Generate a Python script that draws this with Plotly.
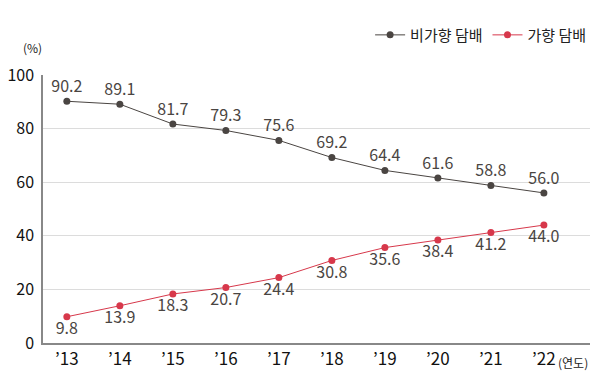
import plotly.graph_objects as go

years = ["’13", "’14", "’15", "’16", "’17", "’18", "’19", "’20", "’21", "’22"]
non_flavored = [90.2, 89.1, 81.7, 79.3, 75.6, 69.2, 64.4, 61.6, 58.8, 56.0]
flavored = [9.8, 13.9, 18.3, 20.7, 24.4, 30.8, 35.6, 38.4, 41.2, 44.0]
names = ["비가향 담배", "가향 담배"]
y_ticks = [0, 20, 40, 60, 80, 100]

FONT = "Noto Sans CJK KR"
DARK = "#4a4542"
RED = "#d7384b"

fig = go.Figure()
fig.add_trace(go.Scatter(
    x=list(range(len(years))), y=non_flavored, name=names[0],
    mode="lines+markers+text", text=[f"{v:.1f}" for v in non_flavored],
    textposition="top center", textfont=dict(size=16, color="#4a4542", family=FONT),
    line=dict(color=DARK, width=1), marker=dict(color=DARK, size=7),
    cliponaxis=False,
))
fig.add_trace(go.Scatter(
    x=list(range(len(years))), y=flavored, name=names[1],
    mode="lines+markers+text", text=[f"{v:.1f}" for v in flavored],
    textposition="bottom center", textfont=dict(size=16, color="#4a4542", family=FONT),
    line=dict(color=RED, width=1), marker=dict(color=RED, size=7),
    cliponaxis=False,
))

fig.update_layout(
    template="none",
    width=592, height=382,
    margin=dict(l=35, r=10, t=67, b=47, autoexpand=False),
    paper_bgcolor="white", plot_bgcolor="white",
    font=dict(family=FONT, color="#111"),
    showlegend=True,
    legend=dict(orientation="h", xref="container", yref="container",
                x=0.985, xanchor="right", y=0.929, yanchor="middle",
                font=dict(size=15, color="#222", family=FONT), itemwidth=30,
                traceorder="normal", bgcolor="rgba(0,0,0,0)"),
    xaxis=dict(range=[-0.45, 9.87], tickvals=list(range(len(years))), ticktext=years,
               showgrid=False, showline=True, linecolor="#888", linewidth=1.5,
               ticks="", tickfont=dict(size=17, color="#111", family=FONT), zeroline=False,
               automargin=False),
    yaxis=dict(range=[0, 100], tickvals=y_ticks, showgrid=True, gridcolor="#dcdcdc",
               gridwidth=1, showline=True, linecolor="#888", linewidth=1.5, ticks="",
               tickfont=dict(size=16, color="#111", family=FONT), zeroline=False,
               ticklabelstandoff=4, automargin=False),
    annotations=[
        dict(text="(%)", xref="paper", yref="paper", x=-0.02, y=1.104, xanchor="center",
             yanchor="middle", showarrow=False, font=dict(size=12, color="#222", family=FONT)),
        dict(text="(연도)", xref="paper", yref="paper", x=1.0, y=-0.071, xanchor="right",
             yanchor="middle", showarrow=False, font=dict(size=12, color="#222", family=FONT)),
    ],
)

fig.write_html("out.html")
